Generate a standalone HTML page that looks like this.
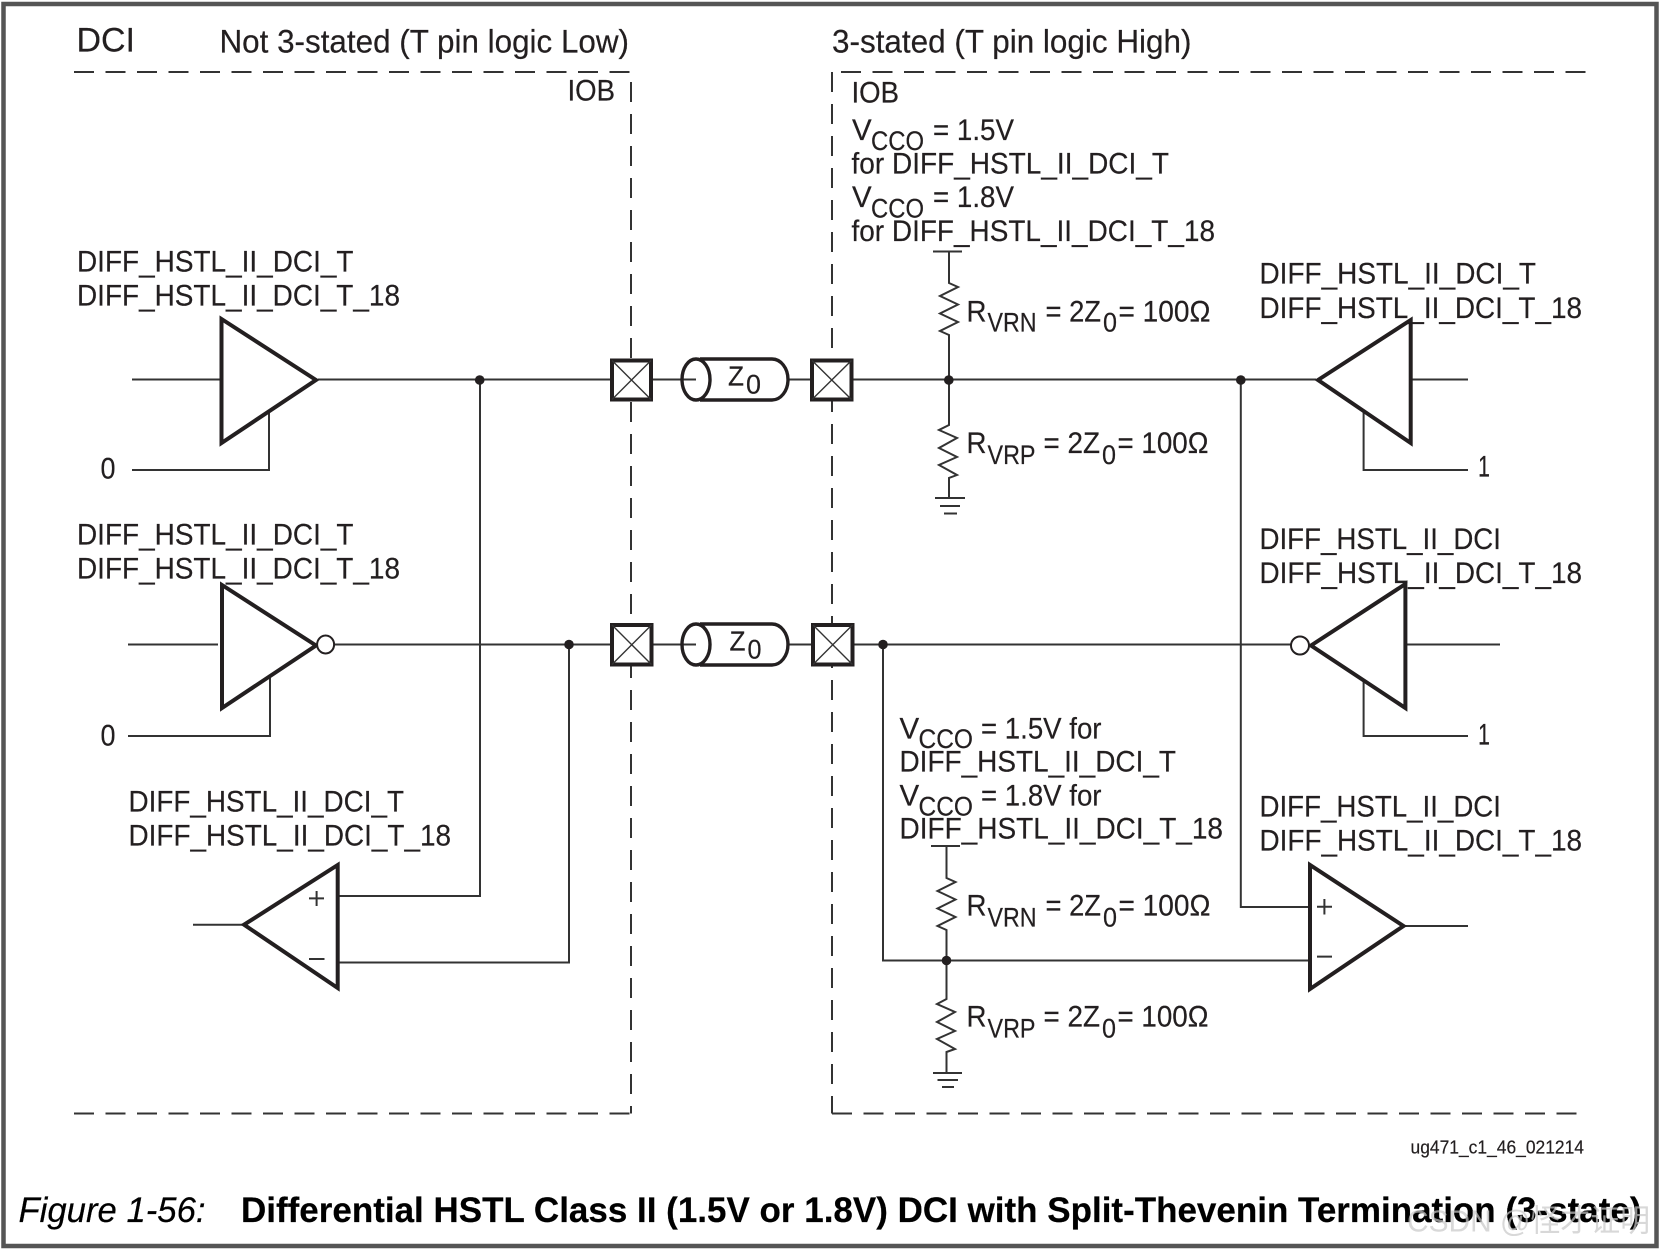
<!DOCTYPE html>
<html lang="en">
<head>
<meta charset="utf-8">
<title>Differential HSTL Class II DCI with Split-Thevenin Termination</title>
<style>
html,body{margin:0;padding:0;background:#fff;width:1660px;height:1249px;overflow:hidden}
svg{display:block}
text{font-family:"Liberation Sans",sans-serif;fill:#231f20;stroke:#231f20;stroke-width:.2;transform:translateY(.7px)}
.t{font-size:29.5px}
.s{font-size:26.5px}
.thin{fill:none;stroke:#333;stroke-width:2}
.thick{fill:none;stroke:#231f20;stroke-width:4;stroke-linejoin:miter}
.pad{fill:#fff;stroke:#231f20;stroke-width:4}
.dash{fill:none;stroke:#333;stroke-width:2;stroke-dasharray:20 11.5}
.dashv{fill:none;stroke:#333;stroke-width:2;stroke-dasharray:20 12}
.x{fill:none;stroke:#333;stroke-width:1.4}
</style>
</head>
<body>
<svg width="1660" height="1249" viewBox="0 0 1660 1249" xmlns="http://www.w3.org/2000/svg">
<rect width="1660" height="1249" style="fill:#fff"/>
<rect x="3.5" y="4" width="1653" height="1242" fill="none" stroke="#555" stroke-width="4.5"/>

<!-- IOB dashed boundaries -->
<path class="dash" d="M74 72H630"/>
<path class="dashv" d="M631 82V1113.5"/>
<path class="dash" d="M74 1113.5H631"/>
<path class="dash" d="M841 72H1586"/>
<path class="dashv" d="M832 72V1113.5"/>
<path class="dash" d="M832 1113.5H1577"/>

<!-- Row 1 wires -->
<path class="thin" d="M132 379.5H221M318 379.5H611M652 379.5H696M789 379.5H811M853 379.5H1316M1411 379.5H1468"/>
<path class="thin" d="M269 412V470H132"/>
<path class="thin" d="M1363.6 412V470H1468"/>
<path class="thin" d="M480 380V896H338"/>
<path class="thin" d="M1240.8 380V907H1310"/>

<!-- Row 2 wires -->
<path class="thin" d="M128 644.5H218M334 644.5H611M652 644.5H696M789 644.5H811M854 644.5H1291M1405 644.5H1500"/>
<path class="thin" d="M270 677V736H128"/>
<path class="thin" d="M1363.6 680V736H1468"/>
<path class="thin" d="M569 644.5V962.5H338"/>
<path class="thin" d="M883 644.5V960.5H1310"/>
<path class="thin" d="M193 924.7H243M1405 926H1468"/>

<!-- Buffers -->
<polygon class="thick" points="221.5,319 221.5,443 316,380"/>
<polygon class="thick" points="222,585 222,708 316,645.5"/>
<polygon class="thick" points="1318,380 1410.7,320 1410.7,443"/>
<polygon class="thick" points="1311,645.5 1405.4,584 1405.4,708"/>
<polygon class="thick" points="244,924.7 337.7,865 337.7,988"/>
<polygon class="thick" points="1310,865 1310,989 1403.5,926"/>

<!-- Inversion bubbles -->
<ellipse cx="325.6" cy="644.5" rx="8.5" ry="9" fill="#fff" stroke="#231f20" stroke-width="2"/>
<ellipse cx="1300" cy="645.5" rx="9" ry="9" fill="#fff" stroke="#231f20" stroke-width="2"/>

<!-- Comparator signs -->
<path class="thin" d="M309 898.4H324M316.6 891V906M309 959H324.5"/>
<path class="thin" d="M1317 906.8H1332M1324.4 899V914.5M1317 956.6H1332"/>

<!-- Pads -->
<g>
<rect class="pad" x="612" y="360.5" width="39" height="39"/>
<path class="x" d="M612 360.5L651 399.5M651 360.5L612 399.5"/>
<rect class="pad" x="812" y="360.5" width="39.5" height="39"/>
<path class="x" d="M812 360.5L851.5 399.5M851.5 360.5L812 399.5"/>
<rect class="pad" x="612" y="625" width="39.5" height="39.5"/>
<path class="x" d="M612 625L651.5 664.5M651.5 625L612 664.5"/>
<rect class="pad" x="813" y="625" width="39.5" height="39.5"/>
<path class="x" d="M813 625L852.5 664.5M852.5 625L813 664.5"/>
</g>

<!-- Transmission lines -->
<g fill="none" stroke="#231f20" stroke-width="3.4">
<ellipse cx="696" cy="379.5" rx="14" ry="20.5"/>
<path d="M700 359H772A16 20.5 0 0 1 772 400H700"/>
<ellipse cx="696" cy="644.5" rx="14" ry="20.5"/>
<path d="M700 624H772A16 20.5 0 0 1 772 665H700"/>
</g>

<!-- Resistor networks -->
<path class="thin" d="M933 251.5H962M949 251.5V283L958 287L940 296L958 304.5L940 313.5L958 322L940 331L949 335V379.5"/>
<path class="thin" d="M949 379.5V425L939 430L957 438L939 448L957 457L939 465L957 475L949 478V498M935 498H965M940 506H960M944 513.5H957"/>
<path class="thin" d="M931 846H960M946.5 846V878L955.5 882L937.5 891L955.5 899.5L937.5 908.5L955.5 917L937.5 926L946.5 930V960.5"/>
<path class="thin" d="M946.5 960.5V999L937 1004L955 1012L937 1022L955 1031L937 1039L955 1049L946.5 1052V1073M933 1073H962M937.5 1080H958M942 1087H954"/>

<!-- Junctions -->
<g fill="#231f20">
<circle cx="479.7" cy="380" r="4.8"/>
<circle cx="569" cy="644.5" r="4.8"/>
<circle cx="948.8" cy="380" r="4.8"/>
<circle cx="1240.8" cy="380" r="4.8"/>
<circle cx="883" cy="644.5" r="4.8"/>
<circle cx="946.5" cy="960.5" r="4.8"/>
</g>

<!-- Headings -->
<text x="76.5" y="51" font-size="34" textLength="58.5" lengthAdjust="spacingAndGlyphs">DCI</text>
<text class="t" x="219.5" y="52" style="font-size:32px" textLength="409.5" lengthAdjust="spacingAndGlyphs">Not 3-stated (T pin logic Low)</text>
<text class="t" x="832" y="52" style="font-size:32px" textLength="359.5" lengthAdjust="spacingAndGlyphs">3-stated (T pin logic High)</text>
<text class="t" x="567.5" y="100" textLength="47.5" lengthAdjust="spacingAndGlyphs">IOB</text>
<text class="t" x="851.5" y="102" textLength="47.5" lengthAdjust="spacingAndGlyphs">IOB</text>

<!-- Left labels -->
<text class="t" x="77" y="271" textLength="276.5" lengthAdjust="spacingAndGlyphs">DIFF_HSTL_II_DCI_T</text>
<text class="t" x="77" y="305" textLength="323" lengthAdjust="spacingAndGlyphs">DIFF_HSTL_II_DCI_T_18</text>
<text class="t" x="100.5" y="478" textLength="15" lengthAdjust="spacingAndGlyphs">0</text>
<text class="t" x="77" y="544" textLength="276.5" lengthAdjust="spacingAndGlyphs">DIFF_HSTL_II_DCI_T</text>
<text class="t" x="77" y="578" textLength="323" lengthAdjust="spacingAndGlyphs">DIFF_HSTL_II_DCI_T_18</text>
<text class="t" x="100.5" y="745" textLength="15" lengthAdjust="spacingAndGlyphs">0</text>
<text class="t" x="128.5" y="811" textLength="275.5" lengthAdjust="spacingAndGlyphs">DIFF_HSTL_II_DCI_T</text>
<text class="t" x="128.5" y="845" textLength="322.5" lengthAdjust="spacingAndGlyphs">DIFF_HSTL_II_DCI_T_18</text>

<!-- Z0 labels -->
<text x="728" y="385" font-size="28" textLength="16" lengthAdjust="spacingAndGlyphs">Z</text>
<text x="746" y="393" font-size="27" textLength="15" lengthAdjust="spacingAndGlyphs">0</text>
<text x="729.5" y="650" font-size="28" textLength="16" lengthAdjust="spacingAndGlyphs">Z</text>
<text x="747.5" y="658" font-size="27" textLength="14" lengthAdjust="spacingAndGlyphs">0</text>

<!-- Upper right VCCO block -->
<text class="t" x="852" y="139.5">V</text>
<text class="s" x="871" y="149.5" textLength="53" lengthAdjust="spacingAndGlyphs">CCO</text>
<text class="t" x="933" y="139.5" textLength="81" lengthAdjust="spacingAndGlyphs">= 1.5V</text>
<text class="t" x="851.5" y="173" textLength="317.5" lengthAdjust="spacingAndGlyphs">for DIFF_HSTL_II_DCI_T</text>
<text class="t" x="852" y="206.5">V</text>
<text class="s" x="871" y="217" textLength="53" lengthAdjust="spacingAndGlyphs">CCO</text>
<text class="t" x="933" y="206.5" textLength="81" lengthAdjust="spacingAndGlyphs">= 1.8V</text>
<text class="t" x="851.5" y="240.5" textLength="363.5" lengthAdjust="spacingAndGlyphs">for DIFF_HSTL_II_DCI_T_18</text>

<!-- Upper RVRN / RVRP -->
<text class="t" x="966.5" y="321" textLength="20" lengthAdjust="spacingAndGlyphs">R</text>
<text class="s" x="987.5" y="331" textLength="49" lengthAdjust="spacingAndGlyphs">VRN</text>
<text class="t" x="1045.5" y="321" textLength="55.5" lengthAdjust="spacingAndGlyphs">= 2Z</text>
<text class="s" x="1103" y="331" textLength="14" lengthAdjust="spacingAndGlyphs">0</text>
<text class="t" x="1118.5" y="321" textLength="92" lengthAdjust="spacingAndGlyphs">= 100Ω</text>
<text class="t" x="966.5" y="452.5" textLength="20" lengthAdjust="spacingAndGlyphs">R</text>
<text class="s" x="987.5" y="463.5" textLength="48" lengthAdjust="spacingAndGlyphs">VRP</text>
<text class="t" x="1043.5" y="452.5" textLength="56.5" lengthAdjust="spacingAndGlyphs">= 2Z</text>
<text class="s" x="1102" y="463.5" textLength="14" lengthAdjust="spacingAndGlyphs">0</text>
<text class="t" x="1117.5" y="452.5" textLength="91" lengthAdjust="spacingAndGlyphs">= 100Ω</text>

<!-- Right labels -->
<text class="t" x="1259.5" y="283" textLength="276.5" lengthAdjust="spacingAndGlyphs">DIFF_HSTL_II_DCI_T</text>
<text class="t" x="1259.5" y="317.5" textLength="322.5" lengthAdjust="spacingAndGlyphs">DIFF_HSTL_II_DCI_T_18</text>
<text class="t" x="1478" y="476" textLength="12" lengthAdjust="spacingAndGlyphs">1</text>
<text class="t" x="1259.5" y="548.5" textLength="241.5" lengthAdjust="spacingAndGlyphs">DIFF_HSTL_II_DCI</text>
<text class="t" x="1259.5" y="582.5" textLength="322.5" lengthAdjust="spacingAndGlyphs">DIFF_HSTL_II_DCI_T_18</text>
<text class="t" x="1478" y="744" textLength="12" lengthAdjust="spacingAndGlyphs">1</text>
<text class="t" x="1259.5" y="816" textLength="241.5" lengthAdjust="spacingAndGlyphs">DIFF_HSTL_II_DCI</text>
<text class="t" x="1259.5" y="850" textLength="322.5" lengthAdjust="spacingAndGlyphs">DIFF_HSTL_II_DCI_T_18</text>

<!-- Lower VCCO block -->
<text class="t" x="899.5" y="738">V</text>
<text class="s" x="918.5" y="747.5" textLength="54.5" lengthAdjust="spacingAndGlyphs">CCO</text>
<text class="t" x="981" y="738" textLength="120.5" lengthAdjust="spacingAndGlyphs">= 1.5V for</text>
<text class="t" x="899.5" y="771" textLength="276.5" lengthAdjust="spacingAndGlyphs">DIFF_HSTL_II_DCI_T</text>
<text class="t" x="899.5" y="805">V</text>
<text class="s" x="918.5" y="815" textLength="54.5" lengthAdjust="spacingAndGlyphs">CCO</text>
<text class="t" x="981" y="805" textLength="120.5" lengthAdjust="spacingAndGlyphs">= 1.8V for</text>
<text class="t" x="899.5" y="838" textLength="323.5" lengthAdjust="spacingAndGlyphs">DIFF_HSTL_II_DCI_T_18</text>

<!-- Lower RVRN / RVRP -->
<text class="t" x="966.5" y="915" textLength="20" lengthAdjust="spacingAndGlyphs">R</text>
<text class="s" x="987.5" y="926" textLength="49" lengthAdjust="spacingAndGlyphs">VRN</text>
<text class="t" x="1045.5" y="915" textLength="55.5" lengthAdjust="spacingAndGlyphs">= 2Z</text>
<text class="s" x="1103" y="926" textLength="14" lengthAdjust="spacingAndGlyphs">0</text>
<text class="t" x="1118.5" y="915" textLength="92" lengthAdjust="spacingAndGlyphs">= 100Ω</text>
<text class="t" x="966.5" y="1026" textLength="20" lengthAdjust="spacingAndGlyphs">R</text>
<text class="s" x="987.5" y="1037" textLength="48" lengthAdjust="spacingAndGlyphs">VRP</text>
<text class="t" x="1043.5" y="1026" textLength="56.5" lengthAdjust="spacingAndGlyphs">= 2Z</text>
<text class="s" x="1102" y="1037" textLength="14" lengthAdjust="spacingAndGlyphs">0</text>
<text class="t" x="1117.5" y="1026" textLength="91" lengthAdjust="spacingAndGlyphs">= 100Ω</text>

<!-- Figure id + caption -->
<text x="1410.5" y="1153" font-size="18" textLength="173.5" lengthAdjust="spacingAndGlyphs">ug471_c1_46_021214</text>
<text x="18.5" y="1221.5" font-size="35" font-style="italic" style="fill:#000;stroke:#000" textLength="187" lengthAdjust="spacingAndGlyphs">Figure 1-56:</text>
<text x="241" y="1221.5" font-size="35" font-weight="bold" style="fill:#000;stroke:#000" textLength="1400.5" lengthAdjust="spacingAndGlyphs">Differential HSTL Class II (1.5V or 1.8V) DCI with Split-Thevenin Termination (3-state)</text>

<!-- Watermark -->
<text x="1407" y="1231" font-size="31" textLength="243" lengthAdjust="spacingAndGlyphs" style="font-family:'Liberation Sans','Noto Sans CJK SC',sans-serif;fill:rgba(200,200,200,.7);stroke:none">CSDN @怪才证明</text>
</svg>
</body>
</html>
